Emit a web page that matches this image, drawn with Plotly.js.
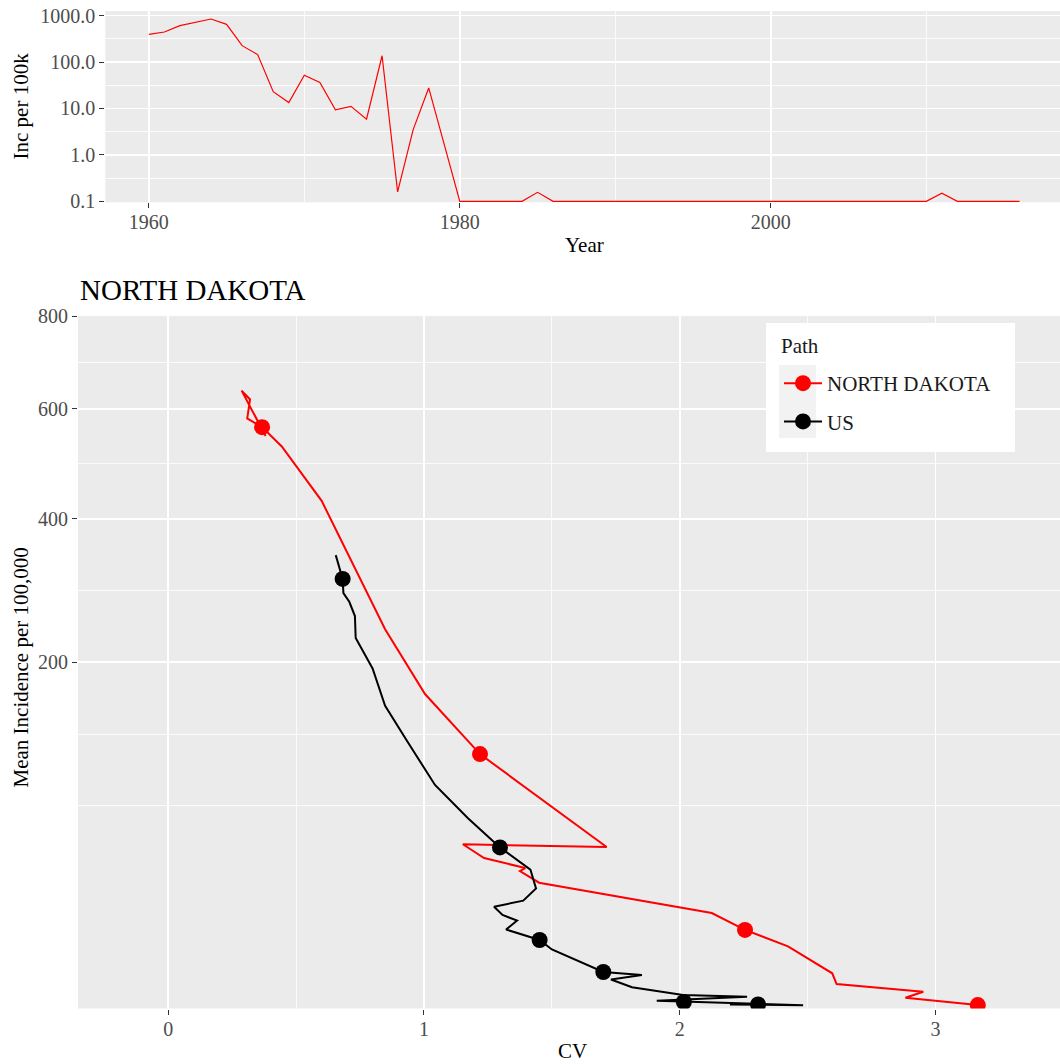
<!DOCTYPE html>
<html><head><meta charset="utf-8">
<script src="https://cdn.plot.ly/plotly-3.0.1.min.js"></script>
<style>html,body{margin:0;padding:0;background:#fff}#chart{width:1060px;height:1064px}</style>
</head><body><div id="chart"></div>
<script>
// ---- top panel: yearly incidence, North Dakota ----
const years = [1960,1961,1962,1963,1964,1965,1966,1967,1968,1969,1970,1971,1972,1973,1974,1975,1976,1977,1978,1979,
  1980,1981,1982,1983,1984,1985,1986,1987,1988,1989,1990,1991,1992,1993,1994,1995,1996,1997,1998,1999,
  2000,2001,2002,2003,2004,2005,2006,2007,2008,2009,2010,2011,2012,2013,2014,2015,2016];
const incPer100k = [396,445,610,707,847,651,226,145,23,13.4,52,36.6,9.4,11.1,5.9,137,0.159,3.5,27.7,1.66,
  0.1,0.1,0.1,0.1,0.1,0.156,0.1,0.1,0.1,0.1,0.1,0.1,0.1,0.1,0.1,0.1,0.1,0.1,0.1,0.1,
  0.1,0.1,0.1,0.1,0.1,0.1,0.1,0.1,0.1,0.1,0.1,0.15,0.1,0.1,0.1,0.1,0.1];
const topYTicks = [0.1,1,10,100,1000];
const topYTickText = ["0.1","1.0","10.0","100.0","1000.0"];
const topXTicks = [1960,1980,2000];

// ---- bottom panel: CV vs mean incidence paths ----
const ndCV  = [0.381,0.287,0.320,0.309,0.367,0.444,0.600,0.848,1.004,1.219,1.714,1.152,1.235,1.396,1.375,1.450,2.125,2.255,2.423,2.596,2.613,2.952,2.882,3.165];
const ndInc = [547,637,619,581,564,527,430,240,165,108,43.5,45.0,37.8,32.9,31.5,26.4,15.2,10.3,6.46,2.07,1.00,0.465,0.191,0.020];
const ndDotCV  = [0.367,1.219,2.255,3.165];
const ndDotInc = [564,108,10.3,0.020];

const usCV  = [0.655,0.682,0.685,0.708,0.730,0.733,0.799,0.848,0.932,1.043,1.172,1.297,1.416,1.438,1.388,1.274,1.307,1.364,1.321,1.452,1.500,1.598,1.701,1.852,1.731,1.813,1.923,2.013,2.263,1.910,2.482,2.196];
const usInc = [343,308,288,276,257,229,193,153,120,83.4,60.4,43.3,32.2,24.0,19.4,17.3,14.6,12.9,10.4,7.83,5.81,3.88,2.22,1.87,1.40,0.75,0.48,0.30,0.228,0.099,0.018,0.027];
const usDotCV  = [0.682,1.297,1.452,1.701,2.016,2.306];
const usDotInc = [308,43.3,7.83,2.22,0.071,0.027];

const botYTicks = [200,400,600,800];
const botXTicks = [0,1,2,3];

const seriesNames = ["NORTH DAKOTA","US"];
const seriesColors = ["#FF0000","#000000"];

// sqrt scale helpers (like scale_y_sqrt)
const sq = a => a.map(v => Math.sqrt(v));
const tb = sq(botYTicks);
const step = tb[1]-tb[0];
const ext = [tb[0]-step, ...tb];
const botMinor = [ext[0]];
for (let i=0;i<ext.length-1;i++) botMinor.push((ext[i]+ext[i+1])/2);

const W = 1060, H = 1064;
const px = x => x/W, py = y => 1 - y/H;
const FONT = "Liberation Serif";
const MS = 16;

const traces = [
  {x: years, y: incPer100k, xaxis:'x', yaxis:'y', mode:'lines', line:{color:'#FF0000', width:1.2}, showlegend:false, hoverinfo:'skip'},
  {x: ndCV, y: sq(ndInc), xaxis:'x2', yaxis:'y2', mode:'lines', line:{color:seriesColors[0], width:2}, showlegend:false},
  {x: usCV, y: sq(usInc), xaxis:'x2', yaxis:'y2', mode:'lines', line:{color:seriesColors[1], width:2}, showlegend:false},
  {x: ndDotCV, y: sq(ndDotInc), xaxis:'x2', yaxis:'y2', mode:'markers', marker:{color:seriesColors[0], size:MS}, showlegend:false},
  {x: usDotCV, y: sq(usDotInc), xaxis:'x2', yaxis:'y2', mode:'markers', marker:{color:seriesColors[1], size:MS}, showlegend:false},
  {x:[null], y:[null], xaxis:'x2', yaxis:'y2', mode:'lines+markers', name:seriesNames[0], legendgroup:'a', line:{color:seriesColors[0], width:2}, marker:{color:seriesColors[0], size:MS}},
  {x:[null], y:[null], xaxis:'x2', yaxis:'y2', mode:'lines+markers', name:seriesNames[1], legendgroup:'b', line:{color:seriesColors[1], width:2}, marker:{color:seriesColors[1], size:MS}}
];

const axBase = {
  showline:false, zeroline:false, ticks:'outside', ticklen:5, tickwidth:1, tickcolor:'#333333',
  tickfont:{family:FONT, size:20, color:'#4D4D4D'}, gridcolor:'#FFFFFF', gridwidth:1.6,
  automargin:false, fixedrange:true
};
const minorBase = {showgrid:true, gridcolor:'#FFFFFF', gridwidth:0.8, ticks:''};

const ann = (text, x, y, extra) => Object.assign({text, x:px(x), y:py(y), xref:'paper', yref:'paper',
  xanchor:'center', yanchor:'middle', showarrow:false, font:{family:FONT,size:21,color:'#000'}}, extra||{});

const layout = {
  width:W, height:H, margin:{l:0,r:0,t:0,b:0}, paper_bgcolor:'#FFFFFF', plot_bgcolor:'#EBEBEB',
  font:{family:FONT, color:'#000000'},
  showlegend:true,
  xaxis: Object.assign({}, axBase, {domain:[105.3/W, 1], range:[1957.2, 2018.6], anchor:'y', ticklabelstandoff:-3,
    tickmode:'array', tickvals:topXTicks, ticktext:topXTicks.map(String),
    minor: Object.assign({}, minorBase, {tickmode:'array', tickvals:[1970,1990,2010]})}),
  yaxis: Object.assign({}, axBase, {type:'log', domain:[py(202.3), py(11)], range:[-1.0216, 3.101], anchor:'x',
    tickmode:'array', tickvals:topYTicks, ticktext:topYTickText,
    minor: Object.assign({}, minorBase, {tickmode:'array', tickvals:[Math.pow(10,-0.5),Math.pow(10,0.5),Math.pow(10,1.5),Math.pow(10,2.5)]})}),
  xaxis2: Object.assign({}, axBase, {domain:[78/W, 1], range:[-0.3526, 3.4864], anchor:'y2', ticklabelstandoff:-3,
    tickmode:'array', tickvals:botXTicks, ticktext:botXTicks.map(String),
    minor: Object.assign({}, minorBase, {tickmode:'array', tickvals:[0.5,1.5,2.5]})}),
  yaxis2: Object.assign({}, axBase, {domain:[py(1008.5), py(316.1)], range:[0, Math.sqrt(800)], anchor:'x2',
    tickmode:'array', tickvals:tb, ticktext:botYTicks.map(String),
    minor: Object.assign({}, minorBase, {tickmode:'array', tickvals:botMinor})}),
  legend: {x:px(779), y:py(363), xanchor:'left', yanchor:'top', bgcolor:'rgba(0,0,0,0)', borderwidth:0,
    font:{family:FONT, size:21, color:'#1A1A1A'},
    traceorder:'grouped', tracegroupgap:8, itemwidth:38},
  shapes: [
    {type:'rect', xref:'paper', yref:'paper', x0:px(766), x1:px(1015), y0:py(452), y1:py(323), fillcolor:'#FFFFFF', line:{width:0}, layer:'above'},
    {type:'rect', xref:'paper', yref:'paper', x0:px(779), x1:px(816), y0:py(438), y1:py(365), fillcolor:'#F2F2F2', line:{width:0}, layer:'above'}
  ],
  annotations: [
    ann('Inc per 100k', 20.5, 106, {textangle:-90}),
    ann('Year', 584, 245),
    ann('NORTH DAKOTA', 78, 290, {xanchor:'left', font:{family:FONT,size:29,color:'#000'}}),
    ann('Mean Incidence per 100,000', 20.5, 668, {textangle:-90}),
    ann('CV', 572, 1051),
    ann('Path', 779, 346, {xanchor:'left', font:{family:FONT,size:21,color:'#1A1A1A'}})
  ]
};

Plotly.newPlot('chart', traces, layout, {displayModeBar:false, staticPlot:true});
</script></body></html>
